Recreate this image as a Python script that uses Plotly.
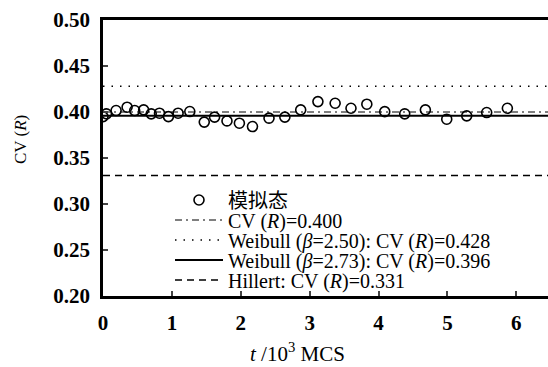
import plotly.graph_objects as go

# simulated CV(R) data (t in 10^3 MCS)
t_sim = [0.0, 0.05, 0.19, 0.35, 0.46, 0.59, 0.70, 0.82, 0.95, 1.09, 1.26,
         1.47, 1.62, 1.80, 1.98, 2.17, 2.41, 2.64, 2.87, 3.12, 3.37, 3.60,
         3.83, 4.09, 4.38, 4.68, 4.99, 5.28, 5.57, 5.87]
cv_sim = [0.395, 0.398, 0.4016, 0.4052, 0.4016, 0.4023, 0.398, 0.3987, 0.395, 0.3987, 0.4005,
          0.389, 0.3944, 0.3903, 0.3878, 0.3842, 0.3933, 0.3944, 0.4023, 0.4113, 0.4095, 0.4041,
          0.4085, 0.4004, 0.398, 0.4023, 0.3922, 0.3958, 0.3994, 0.4041]

x_span = [0.0, 6.5]
cv_mean = 0.400
cv_weibull_250 = 0.428
cv_weibull_273 = 0.396
cv_hillert = 0.331

names = ["模拟态",
         "CV (<i>R</i>)=0.400",
         "Weibull (<i>β</i>=2.50): CV (<i>R</i>)=0.428",
         "Weibull (<i>β</i>=2.73): CV (<i>R</i>)=0.396",
         "Hillert: CV (<i>R</i>)=0.331"]

yticks = [0.20, 0.25, 0.30, 0.35, 0.40, 0.45, 0.50]
ytick_text = ["0.20", "0.25", "0.30", "0.35", "0.40", "0.45", "0.50"]
xticks = [0, 1, 2, 3, 4, 5, 6]

SERIF = "Times New Roman, Liberation Serif, serif"
LEG_FONT = "Times New Roman, Liberation Serif, Noto Sans CJK SC"

# plot area in pixels (for positioning legends/annotations)
L, R, T, B = 103, 0, 20, 71
W, H = 548, 367
PW, PH = W - L - R, H - T - B

def py(pix):
    return (H - B - pix) / PH

def px(pix):
    return (pix - L) / PW

legend_rows = [200, 220, 240, 260, 280]
legend_keys = ["legend", "legend2", "legend3", "legend4", "legend5"]

fig = go.Figure()
fig.add_trace(go.Scatter(x=t_sim, y=cv_sim, mode="markers", name=names[0], legend=legend_keys[0],
                         marker=dict(symbol="circle-open", size=10, color="black",
                                     line=dict(width=1.6, color="black"))))
fig.add_trace(go.Scatter(x=x_span, y=[cv_mean] * 2, mode="lines", name=names[1], legend=legend_keys[1],
                         line=dict(color="black", width=1.2, dash="7px,4px,2px,4px")))
fig.add_trace(go.Scatter(x=x_span, y=[cv_weibull_250] * 2, mode="lines", name=names[2], legend=legend_keys[2],
                         line=dict(color="black", width=1.4, dash="1.5px,7px")))
fig.add_trace(go.Scatter(x=x_span, y=[cv_weibull_273] * 2, mode="lines", name=names[3], legend=legend_keys[3],
                         line=dict(color="black", width=2)))
fig.add_trace(go.Scatter(x=x_span, y=[cv_hillert] * 2, mode="lines", name=names[4], legend=legend_keys[4],
                         line=dict(color="black", width=1.5, dash="7px,5px")))

legend_common = dict(x=px(170), xanchor="left", yanchor="middle",
                     bgcolor="rgba(0,0,0,0)", font=dict(size=20, family=LEG_FONT, color="black"),
                     itemwidth=48, borderwidth=0)

layout_legends = {}
for key, row in zip(legend_keys, legend_rows):
    layout_legends[key] = dict(legend_common, y=py(row))

fig.update_layout(
    width=W, height=H,
    margin=dict(l=L, r=R, t=T, b=B),
    paper_bgcolor="white", plot_bgcolor="white",
    font=dict(family=SERIF, color="black", size=17),
    showlegend=True,
    xaxis=dict(range=[0, 6.46], tickvals=xticks, ticks="inside", ticklen=5,
               tickwidth=1.5, showline=True, linewidth=2.5, linecolor="black",
               mirror=True, showgrid=False, zeroline=False, ticklabelstandoff=6,
               tickfont=dict(size=21, family=SERIF, weight="bold")),
    yaxis=dict(range=[0.20, 0.50], tickvals=yticks, ticktext=ytick_text,
               ticks="inside", ticklen=5, tickwidth=1.5, showline=True,
               linewidth=2.5, linecolor="black", showgrid=False, zeroline=False,
               ticklabelstandoff=6,
               tickfont=dict(size=21, family=SERIF, weight="bold")),
    annotations=[
        dict(text="<i>t</i> /10<sup>3</sup> MCS", xref="paper", yref="paper",
             x=px(297), y=py(352), xanchor="center", yanchor="middle",
             showarrow=False, font=dict(size=21, family=SERIF)),
        dict(text="CV (<i>R</i>)", xref="paper", yref="paper",
             x=px(20), y=py(140), xanchor="center", yanchor="middle",
             textangle=-90, showarrow=False, font=dict(size=17, family=SERIF)),
    ],
    **layout_legends,
)

fig.write_html("out.html")
